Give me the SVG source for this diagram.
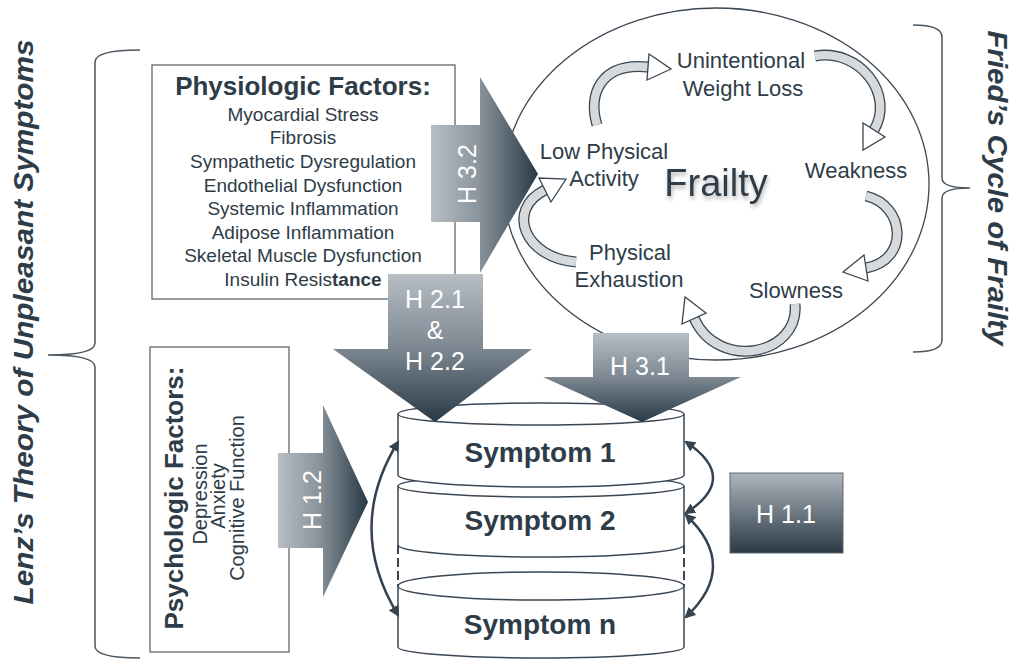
<svg xmlns="http://www.w3.org/2000/svg" width="1011" height="660" viewBox="0 0 1011 660">
<defs>
<linearGradient id="gR" x1="0" y1="0" x2="1" y2="0"><stop offset="0" stop-color="#b7bec4"/><stop offset="0.45" stop-color="#8a949c"/><stop offset="1" stop-color="#283946"/></linearGradient>
<linearGradient id="gD" x1="0" y1="0" x2="0" y2="1"><stop offset="0" stop-color="#b7bec4"/><stop offset="0.5" stop-color="#7d8892"/><stop offset="1" stop-color="#283946"/></linearGradient>
<linearGradient id="gB" x1="0" y1="0" x2="0" y2="1"><stop offset="0" stop-color="#aeb5bc"/><stop offset="1" stop-color="#2a3a47"/></linearGradient>
<filter id="sh" x="-20%" y="-20%" width="140%" height="160%"><feDropShadow dx="1" dy="3" stdDeviation="2" flood-color="#000" flood-opacity="0.3"/></filter>
<marker id="ah" viewBox="0 0 10 10" refX="8" refY="5" markerWidth="11" markerHeight="11" markerUnits="userSpaceOnUse" orient="auto-start-reverse"><path d="M0,0 L10,5 L0,10 z" fill="#34434f"/></marker>
</defs>
<style>
.t{font-family:"Liberation Sans",Arial,sans-serif;fill:#2e3c48}
.w{font-family:"Liberation Sans",Arial,sans-serif;fill:#ffffff;font-size:25px}
.box{fill:#fff;stroke:#5d6870;stroke-width:1.3}
.cyl{fill:#fff;stroke:#3a4753;stroke-width:1.5}
.co{fill:none;stroke:#3a4753;stroke-width:11}
.ci{fill:none;stroke:#d6dadd;stroke-width:8.4}
.hd{fill:#fff;stroke:#3a4753;stroke-width:1.3;stroke-linejoin:miter}
.br{fill:none;stroke:#4a5660;stroke-width:1.5}
.dc{fill:none;stroke:#34434f;stroke-width:2.5}
</style>

<g id="lenz-brace">
<path class="br" d="M140,50 Q95,50 95,62 L95,343 Q95,355 48,355 Q95,355 95,367 L95,646 Q95,658 140,658"/>
<text class="t" transform="rotate(-90 33 322)" x="33" y="322" text-anchor="middle" font-size="28" font-weight="bold" font-style="italic" textLength="565" lengthAdjust="spacingAndGlyphs">Lenz’s Theory of Unpleasant Symptoms</text>
</g>

<g id="fried-brace">
<path class="br" d="M913,25 Q942,25 942,37 L942,178 Q942,188 970,188 Q942,188 942,198 L942,340 Q942,352 913,352"/>
<text class="t" transform="rotate(90 988 188)" x="988" y="188" text-anchor="middle" font-size="27" font-weight="bold" font-style="italic" textLength="315" lengthAdjust="spacingAndGlyphs">Fried’s Cycle of Frailty</text>
</g>

<g id="physiologic">
<rect class="box" x="152" y="65" width="303" height="234"/>
<text class="t" x="303" y="95" text-anchor="middle" font-size="26" font-weight="bold">Physiologic Factors:</text>
<g class="t" font-size="19" text-anchor="middle">
<text x="303" y="121">Myocardial Stress</text>
<text x="303" y="144">Fibrosis</text>
<text x="303" y="168">Sympathetic Dysregulation</text>
<text x="303" y="192">Endothelial Dysfunction</text>
<text x="303" y="215">Systemic Inflammation</text>
<text x="303" y="239">Adipose Inflammation</text>
<text x="303" y="262">Skeletal Muscle Dysfunction</text>
<text x="303" y="286">Insulin Resis<tspan font-weight="bold">tance</tspan></text>
</g>
</g>

<g id="psychologic">
<rect class="box" x="150" y="347" width="139" height="305"/>
<text class="t" transform="rotate(-90 183 498)" x="183" y="498" text-anchor="middle" font-size="26" font-weight="bold">Psychologic Factors:</text>
<g class="t" font-size="20" text-anchor="middle">
<text transform="rotate(-90 207 494)" x="207" y="494">Depression</text>
<text transform="rotate(-90 225 496)" x="225" y="496">Anxiety</text>
<text transform="rotate(-90 244 498)" x="244" y="498">Cognitive Function</text>
</g>
</g>

<g id="frailty-cycle">
<ellipse cx="716" cy="184" rx="213" ry="176" fill="#fff" stroke="#3a4753" stroke-width="1.3"/>
<g id="cycle-arrows">
<path class="co" d="M597,125 C588,95 600,62 648,67"/><path class="ci" d="M597,125 C588,95 600,62 648,67"/>
<polygon class="hd" points="649,54 671,69 647,80"/>
<path class="co" d="M815,56 C860,48 895,95 874,130"/><path class="ci" d="M815,56 C860,48 895,95 874,130"/>
<polygon class="hd" points="885,137 863,150 863,123"/>
<path class="co" d="M866,196 C905,205 910,260 866,268"/><path class="ci" d="M866,196 C905,205 910,260 866,268"/>
<polygon class="hd" points="868,281 843,272 864,255"/>
<path class="co" d="M795,304 C800,355 718,372 694,318"/><path class="ci" d="M795,304 C800,355 718,372 694,318"/>
<polygon class="hd" points="706,313 685,297 682,324"/>
<path class="co" d="M576,262 C525,258 505,210 545,190"/><path class="ci" d="M576,262 C525,258 505,210 545,190"/>
<polygon class="hd" points="551,202 566,179 539,178"/>
</g>
<g class="t" font-size="22" text-anchor="middle">
<text x="741" y="68">Unintentional</text>
<text x="743" y="96">Weight Loss</text>
<text x="604" y="159">Low Physical</text>
<text x="604" y="186">Activity</text>
<text x="856" y="178">Weakness</text>
<text x="630" y="260">Physical</text>
<text x="629" y="287">Exhaustion</text>
<text x="796" y="298">Slowness</text>
</g>
<text class="t" x="716" y="196" text-anchor="middle" font-size="38" filter="url(#sh)">Frailty</text>
</g>

<g id="symptoms">
<g id="symptom-n">
<path class="cyl" d="M398,586 L398,647 A143,11 0 0 0 684,647 L684,586"/>
<ellipse class="cyl" cx="541" cy="586" rx="143" ry="14"/>
<text class="t" x="540" y="634" text-anchor="middle" font-size="28" font-weight="bold">Symptom n</text>
</g>
<path d="M398,545 L398,586 M684,545 L684,586" stroke="#3a4753" stroke-width="2" stroke-dasharray="9,4" fill="none"/>
<g id="symptom-2">
<path class="cyl" d="M398,486 L398,545 A143,12 0 0 0 684,545 L684,486 A143,11 0 0 0 398,486 Z"/>
<path class="cyl" d="M398,486 A143,11 0 0 0 684,486"/>
<text class="t" x="540" y="530" text-anchor="middle" font-size="28" font-weight="bold">Symptom 2</text>
</g>
<g id="symptom-1">
<path class="cyl" d="M398,414 L398,475 A143,12 0 0 0 684,475 L684,414 A143,11 0 0 0 398,414 Z"/>
<path class="cyl" d="M398,414 A143,11 0 0 0 684,414"/>
<text class="t" x="540" y="462" text-anchor="middle" font-size="28" font-weight="bold">Symptom 1</text>
</g>
</g>

<g id="connectors">
<path class="dc" d="M398,442 Q345,528 398,615" marker-start="url(#ah)" marker-end="url(#ah)"/>
<path class="dc" d="M686,442 Q740,478 686,513" marker-start="url(#ah)" marker-end="url(#ah)"/>
<path class="dc" d="M686,515 Q740,566 686,617" marker-start="url(#ah)" marker-end="url(#ah)"/>
</g>

<g id="h32">
<polygon points="431,125 480,125 480,77 538,174 480,273 480,222 431,222" fill="url(#gR)"/>
<text class="w" transform="rotate(-90 476 174)" x="476" y="174" text-anchor="middle">H 3.2</text>
</g>
<g id="h21">
<polygon points="388,274 483,274 483,349 532,349 435,422 333,349 388,349" fill="url(#gD)"/>
<text class="w" x="435" y="308" text-anchor="middle">H 2.1</text>
<text class="w" x="435" y="339" text-anchor="middle">&amp;</text>
<text class="w" x="435" y="370" text-anchor="middle">H 2.2</text>
</g>
<g id="h31">
<polygon points="593,333 689,333 689,377 741,377 642,422 543,377 593,377" fill="url(#gD)"/>
<text class="w" x="640" y="375" text-anchor="middle">H 3.1</text>
</g>
<g id="h12">
<polygon points="278,453 323,453 323,405 368,502 323,597 323,548 278,548" fill="url(#gR)"/>
<text class="w" transform="rotate(-90 321 500)" x="321" y="500" text-anchor="middle">H 1.2</text>
</g>
<g id="h11">
<rect x="730" y="473" width="113" height="80" fill="url(#gB)" stroke="#5d6870" stroke-width="1"/>
<text class="w" x="786" y="523" text-anchor="middle">H 1.1</text>
</g>
</svg>
